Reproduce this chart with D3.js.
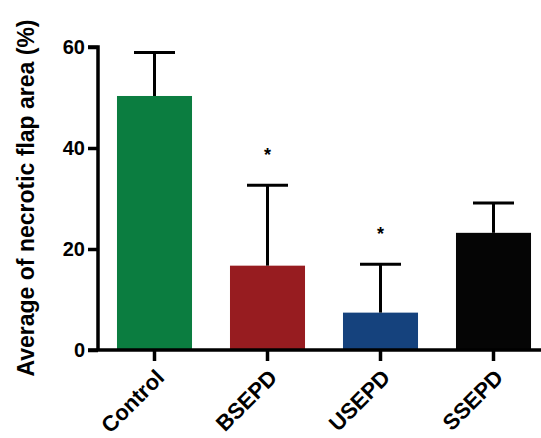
<!DOCTYPE html>
<html><head><meta charset="utf-8">
<script src="https://cdn.jsdelivr.net/npm/d3@7/dist/d3.min.js"></script>
<style>body{margin:0;background:#fff}svg{display:block}</style>
</head><body>
<script>
const categories = ["Control", "BSEPD", "USEPD", "SSEPD"];
const means = [50.3, 16.7, 7.4, 23.2];
const sds = [8.6, 15.9, 9.6, 5.9];
const significant = [false, true, true, false];
const colors = ["#0b7d40", "#971c20", "#15427d", "#050505"];
const yTicks = [0, 20, 40, 60];
const yLabel = "Average of necrotic flap area (%)";

const W = 541, H = 438;
const svg = d3.select("body").append("svg").attr("width", W).attr("height", H);
const font = "'Liberation Sans', Arial, sans-serif";

const y = d3.scaleLinear().domain([0, 60]).range([350, 47]);
const x = d3.scaleBand().domain(categories).range([98, 550]).paddingInner(0.336).paddingOuter(0.168);

// bars
svg.selectAll("rect.bar").data(categories).enter().append("rect")
  .attr("x", d => x(d)).attr("width", x.bandwidth())
  .attr("y", (d, i) => y(means[i])).attr("height", (d, i) => y(0) - y(means[i]))
  .attr("fill", (d, i) => colors[i]);

// error bars
const capW = 41;
const eb = svg.append("g").attr("stroke", "#000").attr("stroke-width", 3);
categories.forEach((c, i) => {
  const cx = x(c) + x.bandwidth() / 2;
  eb.append("line").attr("x1", cx).attr("x2", cx).attr("y1", y(means[i])).attr("y2", y(means[i] + sds[i]));
  eb.append("line").attr("x1", cx - capW / 2).attr("x2", cx + capW / 2).attr("y1", y(means[i] + sds[i])).attr("y2", y(means[i] + sds[i]));
});

// stars
categories.forEach((c, i) => {
  if (!significant[i]) return;
  svg.append("text").attr("x", x(c) + x.bandwidth() / 2).attr("y", y(means[i] + sds[i]) - 24)
    .attr("text-anchor", "middle").attr("font-family", font).attr("font-weight", "bold")
    .attr("font-size", 18).text("*");
});

// y axis
const yAx = svg.append("g").attr("transform", "translate(98,0)")
  .call(d3.axisLeft(y).tickValues(yTicks).tickSize(10).tickPadding(3));
yAx.select(".domain").attr("stroke-width", 3.5).attr("d", `M-10,${y(60)}H0V${y(0)}`);
yAx.selectAll(".tick line").attr("stroke-width", 3.5);
yAx.selectAll(".tick text").attr("font-family", font).attr("font-weight", "bold").attr("font-size", 20).attr("fill", "#000");

// x axis
const xAx = svg.append("g").attr("transform", `translate(0,${y(0)})`)
  .call(d3.axisBottom(x).tickSize(11).tickSizeOuter(0));
xAx.select(".domain").attr("stroke-width", 3.5).attr("d", `M88,0H541`);
xAx.selectAll(".tick line").attr("stroke-width", 3.5);
xAx.selectAll(".tick text").attr("font-family", font).attr("font-weight", "bold").attr("font-size", 22).attr("fill", "#000")
  .attr("text-anchor", "end").attr("dy", null).attr("y", null)
  .attr("transform", "translate(11,29) rotate(-45)");

// y label
svg.append("text").attr("transform", "translate(34,198) rotate(-90)")
  .attr("text-anchor", "middle").attr("font-family", font).attr("font-weight", "bold")
  .attr("font-size", 23).attr("fill", "#000").text(yLabel);
</script>
</body></html>
